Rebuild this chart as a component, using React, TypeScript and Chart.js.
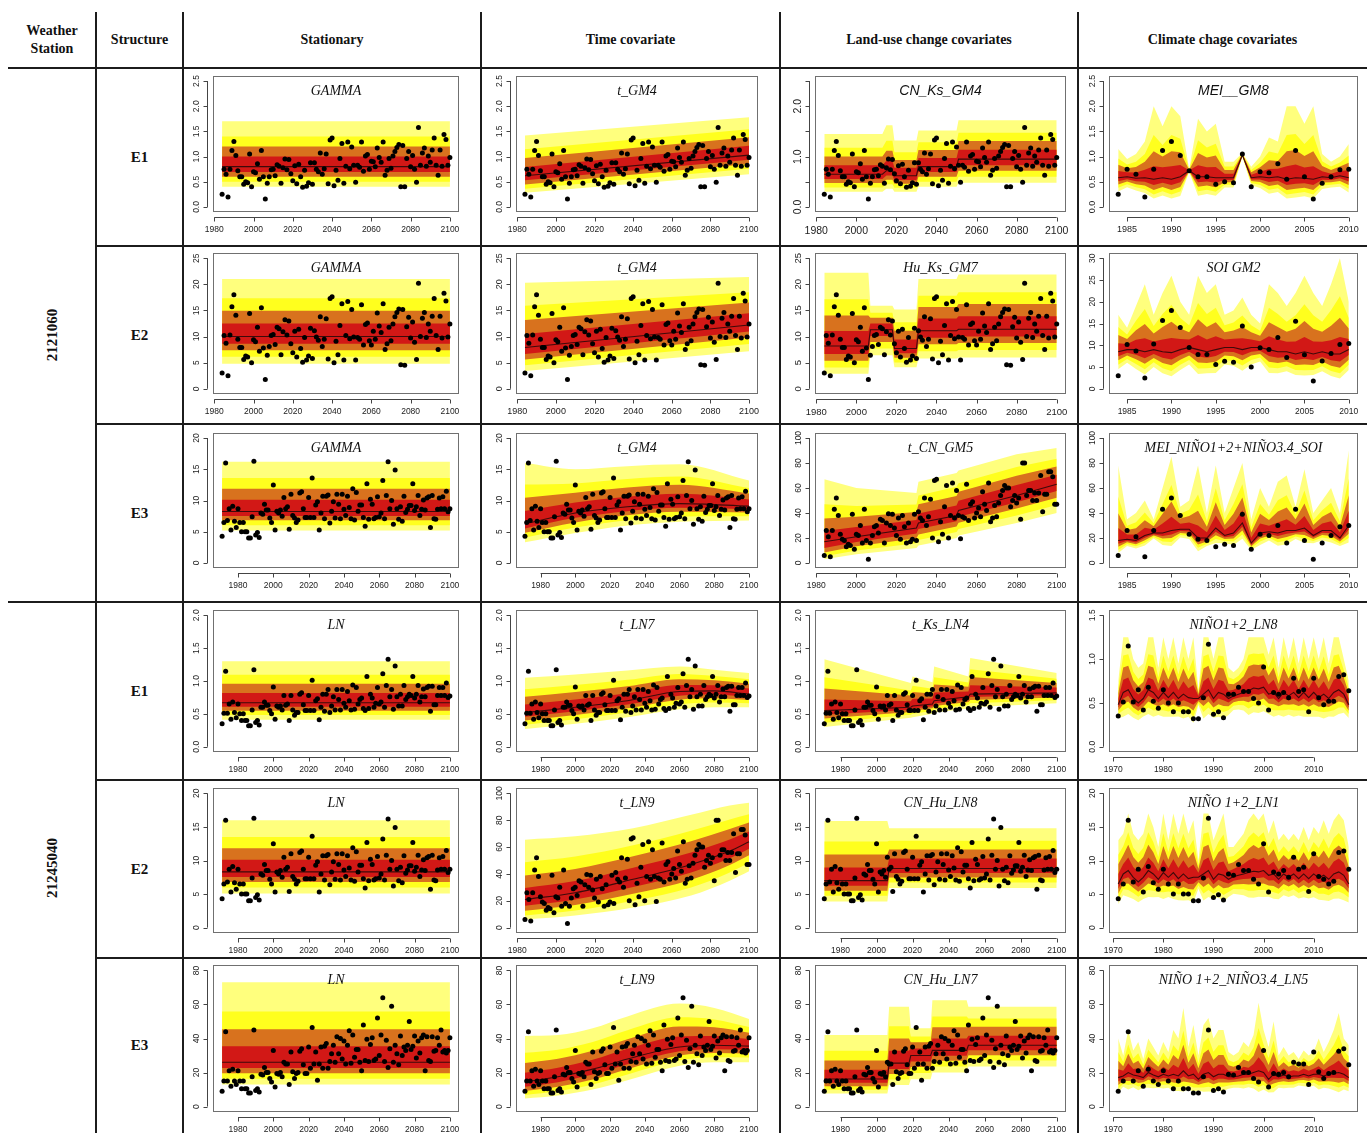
import React, { useEffect, useRef } from "react";
import { Chart, registerables } from "chart.js";
Chart.register(...registerables);

// ================= DATA =================
// Observed annual series (value per year, starting at *_START)
const OBS_A_START = 1984; // 2121060 E1
const OBS_A = [
  0.25, 0.75, 0.65, 0.2, 0.75, 1.12, 1.3, 1.02, 0.72, 0.6, 0.6, 0.45, 0.5, 0.48, 1.05, 0.4, 0.7, 0.68, 0.86, 0.55, 1.12, 0.6, 0.16, 0.47, 0.6, 0.74, 0.75,
  0.62, 0.84, 0.81, 0.47, 0.78, 0.95, 0.74, 0.94, 0.66, 0.52,
  0.82, 0.46, 0.85, 0.6, 0.39, 0.73, 0.41, 0.48, 0.88, 0.45,
  0.88, 0.75, 0.7, 1.07, 0.65, 0.76, 1.05, 0.46, 1.33, 1.37,
  0.42, 0.73, 0.53, 0.96, 1.26, 0.47, 0.81, 1.29, 0.76, 1.19,
  0.83, 0.49, 0.83, 0.79, 1.29, 0.71, 1.01, 1.04, 0.75, 0.91,
  0.9, 0.8, 1.17, 0.98, 0.89, 1.29, 0.63, 0.73, 0.96, 0.77,
  1.01, 1.1, 1.18, 1.24, 0.4, 1.22, 0.4, 0.96, 1.1, 0.8,
  1.02, 0.75, 0.49, 1.58, 0.83, 1.07, 1.17, 0.81, 1.01, 0.89,
  1.13, 1.37, 0.83, 0.63, 1.13, 0.81, 1.44, 1.34, 0.83, 0.98,
];
const OBS_B_START = 1984; // 2121060 E2
const OBS_B = [
  3, 10.2, 8.7, 2.5, 10.3, 15.7, 18, 14.1, 9.5, 7.9, 7.9, 5.6, 6.3, 6.1, 14.4, 5, 9.4, 9, 11.8, 7.2, 15.5, 7.8, 1.8, 6.4, 8.1, 10.2, 10.4,
  8.5, 11.8, 11.5, 6.5, 10.9, 13.2, 10.3, 13, 8.6, 6.9,
  11, 6.1, 11.4, 7.7, 5.1, 9.8, 5.5, 6.3, 11.6, 5.8,
  11.1, 9.9, 9.3, 13.8, 8.1, 9.5, 13.4, 5.7, 17.3, 17.6,
  5, 9.1, 6.5, 12.1, 16.3, 5.5, 10.2, 16.7, 9.6, 15.2,
  9.9, 5.5, 9.8, 9.5, 16.1, 8.4, 12.3, 12.6, 9.2, 8.4,
  11, 9.5, 14.5, 12, 10.8, 16.3, 7.5, 8.6, 11.8, 9.2,
  12.4, 13.8, 14.6, 15.3, 4.6, 15.2, 4.5, 11.9, 13.7, 9.7,
  12.8, 8.9, 5.6, 20.2, 10, 13.5, 14.6, 9.8, 12.4, 11,
  13.9, 17.3, 10.2, 7.5, 13.9, 9.7, 18.3, 16.8, 9.9, 12.4,
];
const OBS_C_START = 1971; // 2121060 E3 / 21245040 E2
const OBS_C = [
  4.3, 6.5, 16, 6.8, 8.7, 5.3, 9.1, 6.7, 5.7, 8.7,
  6.5, 5, 6.5, 5, 5, 4, 4, 7.4, 16.3, 4.5,
  4.9, 4.1, 8, 7.8, 9.4, 8.5, 8.5, 7.2, 6.5, 12.5,
  5.3, 8.3, 8, 8.5, 7.5, 10.5, 8.7, 9, 5.4, 11,
  7.6, 7.2, 6.5, 6.9, 11.2, 11.4, 8.7, 7.3, 7.3, 10.5,
  7.3, 13.6, 7.3, 9.3, 9.8, 5.3, 8, 10.7, 7.1, 10.7,
  10.9, 6.4, 8.3, 9.8, 7.2, 11, 9.4, 7.1, 11, 8.6,
  7.6, 10.7, 8.9, 7.1, 11.9, 6.9, 11.3, 8.3, 9.3, 9.3,
  7.3, 5.9, 12.7, 7, 10.2, 9.4, 7.1, 7.3, 10.6, 7.4,
  8, 13.2, 7.1, 10.8, 16.2, 8.7, 10, 6.2, 14.9, 8.7,
  7, 9, 6.7, 10.7, 8.1, 8.6, 9.2, 9.2, 12.7, 8.4,
  9, 10.8, 7.6, 8.6, 10.1, 8.5, 10.4, 10.6, 5.7, 10.8,
  7.1, 7, 8.6, 10.4, 8.7, 10.6, 8.7, 11.5, 8.2, 8.7,
];
const OBS_D_START = 1984; // 0-100 series (t_CN_GM5, MEI_..., t_LN9)
const OBS_D = [
  6, 26, 21, 5, 26, 43, 52, 38, 23, 19,
  18, 13, 15, 14, 39, 11, 23, 22, 30, 16,
  43, 18, 3, 16, 22, 29, 30, 24, 35, 34,
  16, 32, 39.5, 30, 39, 28, 22, 36, 19, 38,
  29, 16, 32, 17, 19, 39, 18, 41, 36, 34,
  52, 30, 37, 51, 20, 66, 67, 17, 33, 23,
  45, 62, 20, 38, 64, 36, 58, 38, 19.5, 37,
  36, 63, 34, 47, 49, 36, 40, 44, 37, 57,
  47, 42, 64, 33, 36, 46, 37, 48, 54, 58,
  62, 60, 60, 45, 50, 54, 48, 52, 35, 80,
  80, 54, 58, 58, 50, 56, 50, 56, 70, 41,
  55, 55, 73, 73, 69, 47, 47,
];
const OBS_E_START = 1971; // 21245040 E1
const OBS_E = [
  0.35, 0.51, 1.15, 0.51, 0.65, 0.42, 0.68, 0.52, 0.44, 0.65,
  0.5, 0.4, 0.5, 0.4, 0.4, 0.32, 0.32, 0.56, 1.17, 0.37,
  0.4, 0.33, 0.6, 0.6, 0.68, 0.63, 0.63, 0.55, 0.5, 0.91,
  0.42, 0.62, 0.6, 0.62, 0.56, 0.78, 0.63, 0.65, 0.4, 0.78,
  0.56, 0.48, 0.52, 0.52, 0.8, 0.82, 0.64, 0.55, 0.55, 0.78,
  0.55, 1.01, 0.55, 0.7, 0.73, 0.41, 0.6, 0.8, 0.54, 0.8,
  0.87, 0.52, 0.62, 0.76, 0.56, 0.87, 0.72, 0.56, 0.87, 0.66,
  0.6, 0.84, 0.7, 0.56, 0.94, 0.57, 0.9, 0.65, 0.72, 0.74,
  0.58, 0.55, 1.07, 0.58, 0.8, 0.74, 0.6, 0.66, 0.9, 0.65,
  0.68, 1.11, 0.6, 0.93, 1.33, 0.76, 0.87, 0.57, 1.23, 0.76,
  0.62, 0.8, 0.62, 0.93, 0.72, 0.76, 0.8, 0.78, 1.07, 0.74,
  0.8, 0.93, 0.68, 0.76, 0.88, 0.76, 0.9, 0.92, 0.54, 0.92,
  0.64, 0.64, 0.78, 0.9, 0.78, 0.9, 0.78, 0.97, 0.75, 0.77,
];
const OBS_F_START = 1971; // 21245040 E3
const OBS_F = [
  9, 15, 44, 15, 21, 12, 22, 15, 13, 21,
  15, 10.5, 15, 10.5, 10.5, 8, 8, 17.5, 45, 9.5,
  10.5, 8.5, 19, 18.5, 23, 20, 20, 16.5, 14.5, 33,
  11.5, 19.5, 19, 20, 17.5, 26, 25, 25, 13, 32,
  20.5, 16.5, 19.5, 20, 32.5, 34, 24.5, 19.5, 19.5, 35,
  22.5, 46.5, 25, 32, 15.5, 25, 35, 22.5, 35.5, 37,
  22.5, 26.5, 31, 36, 26, 41, 31, 40, 28, 38.5,
  25, 36, 44.5, 25.5, 42, 29, 33.5, 33.5, 26, 21,
  48, 27, 39.5, 26.5, 36.5, 40.5, 27, 28, 52, 30,
  42, 64, 26.5, 39, 23, 34, 59, 26, 36, 31,
  24.5, 41.5, 30, 35, 33, 36, 50, 33.5, 35.5, 41.5,
  28.5, 38.5, 31.5, 40.5, 42, 21, 41, 27, 26.5, 41,
  32.5, 33, 40.5, 36, 45, 32, 33, 31.5, 33, 40.5,
];

// Centile fans: nodes (year), median, outer upper centile, outer lower centile
const F_A1_X = [1984, 2100]; const F_A1_M = [0.8, 0.8]; const F_A1_HI = [1.7, 1.7]; const F_A1_LO = [0.4, 0.4];
const F_A2_X = [1984, 2100]; const F_A2_M = [0.62, 1.03]; const F_A2_HI = [1.42, 1.78]; const F_A2_LO = [0.28, 0.65];
const F_A3_X = [1984, 2013, 2015, 2018, 2019, 2030, 2031, 2050, 2051, 2100];
const F_A3_M = [0.65, 0.65, 0.72, 0.72, 0.62, 0.62, 0.8, 0.8, 0.95, 0.95];
const F_A3_HI = [1.45, 1.45, 1.62, 1.62, 1.32, 1.32, 1.52, 1.52, 1.72, 1.72];
const F_A3_LO = [0.3, 0.3, 0.36, 0.36, 0.3, 0.3, 0.4, 0.4, 0.48, 0.48];
const F_A4_M = [0.58, 0.6, 0.57, 0.58, 0.55, 0.58, 0.55, 0.6, 0.72, 0.6, 0.6, 0.58, 0.58, 0.58, 1.03, 0.58, 0.6, 0.58, 0.6, 0.55, 0.58, 0.57, 0.55, 0.6, 0.58, 0.62, 0.58];
const F_A4_HI = [1.15, 0.95, 1.05, 1.3, 2.0, 1.6, 2.0, 1.8, 0.75, 1.75, 1.5, 1.65, 0.9, 0.9, 1.07, 0.8, 1.0, 1.38, 1.3, 2.0, 2.0, 1.65, 2.0, 1.05, 0.9, 1.0, 1.25];

const F_B1_X = [1984, 2100]; const F_B1_M = [10, 10]; const F_B1_HI = [21, 21]; const F_B1_LO = [4.8, 4.8];
const F_B2_X = [1984, 2100]; const F_B2_M = [7.9, 12.2]; const F_B2_HI = [20.3, 21.4]; const F_B2_LO = [3.4, 7.2];
const F_B3_X = [1984, 2006, 2007, 2018, 2019, 2030, 2031, 2050, 2051, 2100];
const F_B3_M = [8.2, 8.2, 11.3, 11.3, 7.7, 7.7, 11.1, 11.1, 11.4, 11.4];
const F_B3_HI = [22.2, 22.2, 15.9, 15.9, 15.2, 15.2, 21, 21, 21.9, 21.9];
const F_B3_LO = [2.9, 2.9, 6.4, 6.4, 4.1, 4.1, 5.8, 5.8, 6, 6];
const F_B4_M = [8.5, 9, 9, 8.5, 9, 8.5, 8.3, 9, 9.5, 9, 8.5, 9, 9.5, 9.5, 9, 9.5, 9.5, 9, 8.5, 8.5, 8, 8.5, 8, 8.5, 8, 8, 9];
const F_B4_HI = [17, 14, 19, 24, 17, 22, 26, 20, 17, 26, 22, 24, 17, 18, 21, 17, 15, 24, 22, 19, 22, 26, 22, 19, 24, 30, 20];

const F_C1_X = [1971, 2100]; const F_C1_M = [8.25, 8.25]; const F_C1_HI = [16.2, 16.2]; const F_C1_LO = [5.2, 5.2];
const F_C2_X = [1971, 2000, 2030, 2060, 2100]; const F_C2_M = [6.3, 8.0, 9.0, 9.5, 9.1];
const F_C2_HI = [16.0, 15.0, 15.5, 15.8, 13.2]; const F_C2_LO = [3.3, 4.8, 6.0, 6.6, 6.8];
const F_C3_X = [1984, 2000, 2030, 2031, 2050, 2051, 2080, 2100];
const F_C3_M = [17, 21, 28, 32, 38, 42, 54, 63];
const F_C3_HI = [67, 60, 56, 65, 72, 74, 87, 92];
const F_C3_LO = [3, 7, 12, 14, 20, 22, 32, 40];
const F_C4_M = [18, 19, 18, 22, 24, 24, 26, 27, 27, 20, 20, 28, 22, 24, 32, 16, 24, 25, 24, 26, 26, 28, 22, 26, 26, 20, 30];
const F_C4_HI = [78, 35, 40, 50, 35, 60, 85, 45, 50, 78, 40, 78, 40, 60, 80, 35, 60, 45, 65, 70, 45, 75, 40, 50, 60, 40, 90];

const F_D1_X = [1971, 2100]; const F_D1_M = [0.67, 0.67]; const F_D1_HI = [1.3, 1.3]; const F_D1_LO = [0.41, 0.41];
const F_D2_X = [1971, 2000, 2030, 2060, 2080, 2100]; const F_D2_M = [0.52, 0.6, 0.7, 0.84, 0.85, 0.8];
const F_D2_HI = [1.05, 1.1, 1.16, 1.22, 1.17, 1.12]; const F_D2_LO = [0.27, 0.35, 0.45, 0.57, 0.6, 0.6];
const F_D3_X = [1971, 2019, 2020, 2031, 2032, 2051, 2052, 2100];
const F_D3_M = [0.55, 0.6, 0.62, 0.65, 0.7, 0.76, 0.8, 0.82];
const F_D3_HI = [1.33, 0.97, 1.07, 0.98, 1.22, 1.07, 1.35, 1.12];
const F_D3_LO = [0.3, 0.44, 0.45, 0.5, 0.52, 0.58, 0.6, 0.66];
const F_D4_M = [0.48, 0.62, 0.65, 0.55, 0.5, 0.55, 0.65, 0.62, 0.55, 0.62, 0.56, 0.62, 0.55, 0.6, 0.56, 0.55, 0.55, 0.6, 0.65, 0.55, 0.62, 0.6, 0.55, 0.58, 0.6, 0.62, 0.64, 0.67, 0.66, 0.68, 0.6, 0.62, 0.55, 0.62, 0.58, 0.62, 0.56, 0.62, 0.56, 0.62, 0.56, 0.6, 0.55, 0.62, 0.65, 0.6, 0.48];
const F_D4_HI = [0.75, 1.25, 1.25, 1.0, 0.9, 0.95, 1.25, 1.25, 0.9, 1.25, 1.0, 1.25, 0.95, 1.25, 1.0, 1.25, 0.65, 1.25, 1.25, 1.0, 1.25, 1.25, 0.9, 0.85, 0.9, 1.0, 1.25, 1.25, 1.25, 1.25, 1.05, 1.25, 0.9, 1.25, 1.0, 1.25, 0.95, 1.25, 1.0, 1.25, 1.0, 1.25, 0.95, 1.25, 1.25, 1.0, 0.75];

const F_E1_X = [1971, 2100]; const F_E1_M = [8.3, 8.3]; const F_E1_HI = [16, 16]; const F_E1_LO = [5.1, 5.1];
const F_E2_X = [1984, 2010, 2040, 2070, 2090, 2100]; const F_E2_M = [21, 26, 36, 47, 57, 64];
const F_E2_HI = [65.5, 68, 74, 84, 91, 93]; const F_E2_LO = [6, 9, 15, 24, 35, 42];
const F_E3_X = [1971, 2006, 2007, 2100]; const F_E3_M = [7, 7, 8.8, 8.8];
const F_E3_HI = [15.9, 15.9, 14.8, 14.8]; const F_E3_LO = [3.9, 3.9, 5.9, 5.9];
const F_E4_M = [6.5, 8, 8.5, 7.5, 6.8, 7.5, 8.5, 8, 7.2, 8.2, 7.5, 8.2, 7.3, 8, 7.3, 7.5, 7.5, 8, 8.5, 7.2, 8, 7.8, 7.2, 7.6, 7.8, 8, 8.2, 8.4, 8.3, 8.5, 7.8, 8, 7.2, 8, 7.5, 8, 7.3, 8, 7.3, 8, 7.4, 7.8, 7.2, 8, 8.3, 7.8, 6.5];
const F_E4_HI = [13, 14, 17, 14, 13, 14, 17, 15, 12, 17, 13, 17, 14, 17, 14, 16, 10, 17, 17, 13, 15, 17, 12, 12, 13, 14, 16, 17, 16, 17, 14, 16, 13, 14, 13, 14, 13, 15, 13, 15, 14, 16, 14, 16, 17, 16, 12];

const F_F1_X = [1971, 2100]; const F_F1_M = [26, 26]; const F_F1_HI = [73, 73]; const F_F1_LO = [13, 13];
const F_F2_X = [1971, 1990, 2010, 2030, 2060, 2080, 2100]; const F_F2_M = [14.5, 17.5, 22, 28, 35, 36, 35.5];
const F_F2_HI = [41.5, 42, 46, 53, 60.5, 58, 51.5]; const F_F2_LO = [4.7, 6.5, 10, 15.5, 24, 26, 26];
const F_F3_X = [1971, 2006, 2007, 2018, 2019, 2030, 2031, 2050, 2051, 2100];
const F_F3_M = [16.2, 16.2, 25.5, 25.5, 30, 30, 33, 33, 36, 36];
const F_F3_HI = [42, 42, 58.7, 58.7, 46, 46, 62.5, 62.5, 58.7, 58.7];
const F_F3_LO = [7.7, 7.7, 12.6, 12.6, 16, 16, 20, 20, 23.5, 23.5];
const F_F4_M = [17, 18, 20, 18.5, 18, 17, 20, 18.5, 17.5, 19, 18, 19, 18, 21, 18, 19, 16, 19, 20, 17.5, 19, 19, 17.5, 17.5, 18, 19, 19, 20, 21, 20, 16, 19, 17.5, 18.5, 17.5, 18, 18, 19, 18, 19, 19, 18, 19, 19.5, 20, 19, 17];
const F_F4_HI = [40, 30, 45, 33, 38, 28, 40, 35, 30, 38, 32, 45, 40, 58, 35, 48, 30, 48, 52, 40, 45, 45, 32, 30, 32, 38, 35, 42, 61, 45, 35, 50, 30, 35, 30, 32, 28, 33, 30, 32, 40, 32, 38, 45, 55, 40, 36];

// Relative position of inner centiles between median and outer centile (log scale)
const UP_FR = [0.3, 0.54, 0.74, 1];
const LO_FR = [0.2, 0.41, 0.67, 1];

// Ticks
const X_CENT = [1980, 2000, 2020, 2040, 2060, 2080, 2100];
const X_CL_A = [1985, 1990, 1995, 2000, 2005, 2010];
const X_CL_B = [1970, 1980, 1990, 2000, 2010];
const Y_25 = [0, 0.5, 1, 1.5, 2, 2.5]; const YL_25 = ["0.0", "0.5", "1.0", "1.5", "2.0", "2.5"];
const YL_25B = ["0.0", "", "1.0", "", "2.0", ""];
const Y_2 = [0, 0.5, 1, 1.5, 2]; const YL_2 = ["0.0", "0.5", "1.0", "1.5", "2.0"];
const Y_15 = [0, 0.5, 1, 1.5]; const YL_15 = ["0.0", "0.5", "1.0", "1.5"];
const Y_20 = [0, 5, 10, 15, 20]; const YL_20 = ["0", "5", "10", "15", "20"];
const Y_25I = [0, 5, 10, 15, 20, 25]; const YL_25I = ["0", "5", "10", "15", "20", "25"];
const Y_30 = [0, 5, 10, 15, 20, 25, 30]; const YL_30 = ["0", "5", "10", "15", "20", "25", "30"];
const Y_100 = [0, 20, 40, 60, 80, 100]; const YL_100 = ["0", "20", "40", "60", "80", "100"];
const Y_80 = [0, 20, 40, 60, 80]; const YL_80 = ["0", "20", "40", "60", "80"];

// Table text
const COLUMN_HEADERS = ["Stationary", "Time covariate", "Land-use change covariates", "Climate chage covariates"];
const STATIONS = ["2121060", "21245040"];
const STRUCTURES = ["E1", "E2", "E3", "E1", "E2", "E3"];

// ================= LAYOUT / STYLE =================
const COL_L = [183, 481, 780, 1078];
const COL_R = [481, 780, 1078, 1367];
const ROW_T = [68, 246, 424, 602, 780, 958];
const ROW_B = [246, 424, 602, 780, 958, 1133];
const PAD_LR = [[30, 22], [35, 22], [35, 12], [31, 9]];
const PAD_TB = [[8, 34], [7, 30], [9, 34], [8, 28], [8, 25], [7, 21]];
const SERIF = '"Liberation Serif", "Times New Roman", serif';
const SANS = '"Liberation Sans", Arial, sans-serif';
const C_PALE = "rgb(255,255,125)";
const C_YEL = "rgb(255,255,30)";
const C_ORA = "rgb(216,114,30)";
const C_RED = "rgb(210,24,22)";

type Spec = {
  row: number; col: number; title: string; sans?: boolean;
  pStart: number; pts: number[]; from: number; to: number;
  bx?: number[]; bm: number[]; bh: number[]; bl?: number[]; lowRatio?: number;
  smooth?: boolean; yT: number[]; yL: string[]; xT: number[]; fs?: number;
};

const SPECS: Spec[] = [
  { row: 0, col: 0, title: "GAMMA", pStart: OBS_A_START, pts: OBS_A, from: 1984, to: 2100, bx: F_A1_X, bm: F_A1_M, bh: F_A1_HI, bl: F_A1_LO, yT: Y_25, yL: YL_25, xT: X_CENT },
  { row: 0, col: 1, title: "t_GM4", pStart: OBS_A_START, pts: OBS_A, from: 1984, to: 2100, bx: F_A2_X, bm: F_A2_M, bh: F_A2_HI, bl: F_A2_LO, yT: Y_25, yL: YL_25, xT: X_CENT, fs: 8.5 },
  { row: 0, col: 2, title: "CN_Ks_GM4", sans: true, pStart: OBS_A_START, pts: OBS_A, from: 1984, to: 2100, bx: F_A3_X, bm: F_A3_M, bh: F_A3_HI, bl: F_A3_LO, yT: Y_25, yL: YL_25B, xT: X_CENT, fs: 10.5 },
  { row: 0, col: 3, title: "MEI__GM8", sans: true, pStart: OBS_A_START, pts: OBS_A, from: 1984, to: 2010, bm: F_A4_M, bh: F_A4_HI, lowRatio: 0.92, yT: Y_25, yL: YL_25, xT: X_CL_A, fs: 9 },

  { row: 1, col: 0, title: "GAMMA", pStart: OBS_B_START, pts: OBS_B, from: 1984, to: 2100, bx: F_B1_X, bm: F_B1_M, bh: F_B1_HI, bl: F_B1_LO, yT: Y_25I, yL: YL_25I, xT: X_CENT },
  { row: 1, col: 1, title: "t_GM4", pStart: OBS_B_START, pts: OBS_B, from: 1984, to: 2100, bx: F_B2_X, bm: F_B2_M, bh: F_B2_HI, bl: F_B2_LO, yT: Y_25I, yL: YL_25I, xT: X_CENT, fs: 9 },
  { row: 1, col: 2, title: "Hu_Ks_GM7", pStart: OBS_B_START, pts: OBS_B, from: 1984, to: 2100, bx: F_B3_X, bm: F_B3_M, bh: F_B3_HI, bl: F_B3_LO, yT: Y_25I, yL: YL_25I, xT: X_CENT, fs: 9.5 },
  { row: 1, col: 3, title: "SOI GM2", pStart: OBS_B_START, pts: OBS_B, from: 1984, to: 2010, bm: F_B4_M, bh: F_B4_HI, lowRatio: 0.92, yT: Y_30, yL: YL_30, xT: X_CL_A },

  { row: 2, col: 0, title: "GAMMA", pStart: OBS_C_START, pts: OBS_C, from: 1971, to: 2100, bx: F_C1_X, bm: F_C1_M, bh: F_C1_HI, bl: F_C1_LO, yT: Y_20, yL: YL_20, xT: X_CENT },
  { row: 2, col: 1, title: "t_GM4", pStart: OBS_C_START, pts: OBS_C, from: 1971, to: 2100, bx: F_C2_X, bm: F_C2_M, bh: F_C2_HI, bl: F_C2_LO, smooth: true, yT: Y_20, yL: YL_20, xT: X_CENT },
  { row: 2, col: 2, title: "t_CN_GM5", pStart: OBS_D_START, pts: OBS_D, from: 1984, to: 2100, bx: F_C3_X, bm: F_C3_M, bh: F_C3_HI, bl: F_C3_LO, yT: Y_100, yL: YL_100, xT: X_CENT },
  { row: 2, col: 3, title: "MEI_NIÑO1+2+NIÑO3.4_SOI", pStart: OBS_D_START, pts: OBS_D, from: 1984, to: 2010, bm: F_C4_M, bh: F_C4_HI, lowRatio: 0.55, yT: Y_100, yL: YL_100, xT: X_CL_A },

  { row: 3, col: 0, title: "LN", pStart: OBS_E_START, pts: OBS_E, from: 1971, to: 2100, bx: F_D1_X, bm: F_D1_M, bh: F_D1_HI, bl: F_D1_LO, yT: Y_2, yL: YL_2, xT: X_CENT },
  { row: 3, col: 1, title: "t_LN7", pStart: OBS_E_START, pts: OBS_E, from: 1971, to: 2100, bx: F_D2_X, bm: F_D2_M, bh: F_D2_HI, bl: F_D2_LO, smooth: true, yT: Y_2, yL: YL_2, xT: X_CENT },
  { row: 3, col: 2, title: "t_Ks_LN4", pStart: OBS_E_START, pts: OBS_E, from: 1971, to: 2100, bx: F_D3_X, bm: F_D3_M, bh: F_D3_HI, bl: F_D3_LO, yT: Y_2, yL: YL_2, xT: X_CENT },
  { row: 3, col: 3, title: "NIÑO1+2_LN8", pStart: OBS_E_START, pts: OBS_E, from: 1971, to: 2017, bm: F_D4_M, bh: F_D4_HI, lowRatio: 0.85, yT: Y_15, yL: YL_15, xT: X_CL_B },

  { row: 4, col: 0, title: "LN", pStart: OBS_C_START, pts: OBS_C, from: 1971, to: 2100, bx: F_E1_X, bm: F_E1_M, bh: F_E1_HI, bl: F_E1_LO, yT: Y_20, yL: YL_20, xT: X_CENT },
  { row: 4, col: 1, title: "t_LN9", pStart: OBS_D_START, pts: OBS_D, from: 1984, to: 2100, bx: F_E2_X, bm: F_E2_M, bh: F_E2_HI, bl: F_E2_LO, smooth: true, yT: Y_100, yL: YL_100, xT: X_CENT },
  { row: 4, col: 2, title: "CN_Hu_LN8", pStart: OBS_C_START, pts: OBS_C, from: 1971, to: 2100, bx: F_E3_X, bm: F_E3_M, bh: F_E3_HI, bl: F_E3_LO, yT: Y_20, yL: YL_20, xT: X_CENT },
  { row: 4, col: 3, title: "NIÑO 1+2_LN1", pStart: OBS_C_START, pts: OBS_C, from: 1971, to: 2017, bm: F_E4_M, bh: F_E4_HI, lowRatio: 0.9, yT: Y_20, yL: YL_20, xT: X_CL_B },

  { row: 5, col: 0, title: "LN", pStart: OBS_F_START, pts: OBS_F, from: 1971, to: 2100, bx: F_F1_X, bm: F_F1_M, bh: F_F1_HI, bl: F_F1_LO, yT: Y_80, yL: YL_80, xT: X_CENT },
  { row: 5, col: 1, title: "t_LN9", pStart: OBS_F_START, pts: OBS_F, from: 1971, to: 2100, bx: F_F2_X, bm: F_F2_M, bh: F_F2_HI, bl: F_F2_LO, smooth: true, yT: Y_80, yL: YL_80, xT: X_CENT },
  { row: 5, col: 2, title: "CN_Hu_LN7", pStart: OBS_F_START, pts: OBS_F, from: 1971, to: 2100, bx: F_F3_X, bm: F_F3_M, bh: F_F3_HI, bl: F_F3_LO, yT: Y_80, yL: YL_80, xT: X_CENT },
  { row: 5, col: 3, title: "NIÑO 1+2_NIÑO3.4_LN5", pStart: OBS_F_START, pts: OBS_F, from: 1971, to: 2017, bm: F_F4_M, bh: F_F4_HI, lowRatio: 0.85, yT: Y_80, yL: YL_80, xT: X_CL_B },
];

function makeRPlot(spec: Spec) {
  return {
    id: "rPlot",
    afterDatasetsDraw(chart: any) {
      const { ctx, chartArea: a } = chart;
      const xs = chart.scales.x, ys = chart.scales.y;
      const fs = spec.fs ?? 8.5;
      ctx.save();
      // frame
      ctx.strokeStyle = "#707070";
      ctx.lineWidth = 1;
      ctx.strokeRect(Math.round(a.left) + 0.5, Math.round(a.top) + 0.5, Math.round(a.width) - 1, Math.round(a.height) - 1);
      ctx.strokeStyle = "#444";
      // x axis
      const ay = Math.round(a.bottom) + 5.5;
      const px = spec.xT.map((v) => xs.getPixelForValue(v));
      ctx.beginPath();
      ctx.moveTo(px[0], ay);
      ctx.lineTo(px[px.length - 1], ay);
      px.forEach((p) => { ctx.moveTo(Math.round(p) + 0.5, ay); ctx.lineTo(Math.round(p) + 0.5, ay + 4); });
      // y axis
      const ax = Math.round(a.left) - 5.5;
      const py = spec.yT.map((v) => ys.getPixelForValue(v));
      ctx.moveTo(ax, py[0]);
      ctx.lineTo(ax, py[py.length - 1]);
      py.forEach((p) => { ctx.moveTo(ax, Math.round(p) + 0.5); ctx.lineTo(ax - 4, Math.round(p) + 0.5); });
      ctx.stroke();
      ctx.fillStyle = "#222";
      ctx.font = `${fs}px ${SANS}`;
      ctx.textAlign = "center";
      ctx.textBaseline = "middle";
      spec.xT.forEach((v, i) => ctx.fillText(String(v), px[i], ay + 6 + fs * 0.7));
      spec.yL.forEach((lab, i) => {
        if (!lab) return;
        ctx.save();
        ctx.translate(ax - 5.5 - fs * 0.6, py[i]);
        ctx.rotate(-Math.PI / 2);
        ctx.fillText(lab, 0, 0);
        ctx.restore();
      });
      // title
      ctx.fillStyle = "#111";
      ctx.font = `italic 14px ${spec.sans ? SANS : SERIF}`;
      ctx.fillText(spec.title, (a.left + a.right) / 2, a.top + 15);
      ctx.restore();
    },
  };
}

function ChartCell({ spec }: { spec: Spec }) {
  const ref = useRef<HTMLCanvasElement>(null);
  const L = COL_L[spec.col], R = COL_R[spec.col], T = ROW_T[spec.row], B = ROW_B[spec.row];
  const w = R - L - 2, h = B - T - 2;
  useEffect(() => {
    const cv = ref.current;
    if (!cv) return;
    const [pl, pr] = PAD_LR[spec.col];
    const [pt, pb] = PAD_TB[spec.row];
    const bx = spec.bx ?? spec.bm.map((_, i) => spec.from + i);
    const lo = spec.bl ?? spec.bm.map((m, i) => m * Math.pow(m / spec.bh[i], spec.lowRatio ?? 0.9));
    const up = UP_FR.map((f) => bx.map((x, i) => ({ x, y: spec.bm[i] * Math.pow(spec.bh[i] / spec.bm[i], f) })));
    const dn = LO_FR.map((f) => bx.map((x, i) => ({ x, y: spec.bm[i] * Math.pow(lo[i] / spec.bm[i], f) })));
    const med = bx.map((x, i) => ({ x, y: spec.bm[i] }));
    const pts = spec.pts
      .map((v, i) => ({ x: spec.pStart + i, y: v }))
      .filter((p) => p.x >= spec.from && p.x <= spec.to);
    const interp = spec.smooth ? "monotone" : "default";
    const band = (data: any[], color: string | null) => ({
      data, borderWidth: 0, borderColor: "rgba(0,0,0,0)", pointRadius: 0,
      fill: color ? "+1" : false, backgroundColor: color ?? "rgba(0,0,0,0)",
      cubicInterpolationMode: interp, tension: 0,
    });
    const colors = [C_RED, C_ORA, C_YEL, C_PALE];
    const bandSets: any[] = [];
    for (let k = 0; k < 4; k++) {
      bandSets.push(band(up[k], colors[k]));
      bandSets.push(band(dn[k], null));
    }
    const datasets: any[] = [
      { data: pts, showLine: false, pointRadius: 2.5, pointBackgroundColor: "#000", pointBorderWidth: 0, borderColor: "#000", fill: false },
      { data: med, borderColor: "#3d0a0a", borderWidth: 1.1, pointRadius: 0, fill: false, cubicInterpolationMode: interp, tension: 0 },
      ...bandSets,
    ];
    const xr = spec.to - spec.from;
    const yr = spec.yT[spec.yT.length - 1] - spec.yT[0];
    const chart = new Chart(cv, {
      type: "line",
      data: { datasets },
      options: {
        responsive: false,
        animation: false,
        devicePixelRatio: 1,
        events: [],
        layout: { padding: { left: pl - 1, right: pr - 1, top: pt - 1, bottom: pb - 1 } },
        scales: {
          x: { type: "linear", min: spec.from - 0.04 * xr, max: spec.to + 0.04 * xr, display: false },
          y: { type: "linear", min: spec.yT[0] - 0.04 * yr, max: spec.yT[spec.yT.length - 1] + 0.04 * yr, display: false },
        },
        plugins: { legend: { display: false }, tooltip: { enabled: false }, title: { display: false } },
      } as any,
      plugins: [makeRPlot(spec)],
    } as any);
    return () => chart.destroy();
  }, [spec]);
  return (
    <canvas
      ref={ref}
      width={w}
      height={h}
      style={{ position: "absolute", left: L + 1, top: T + 1, width: w, height: h }}
    />
  );
}

const lineStyle = (x: number, y: number, w: number, h: number): React.CSSProperties => ({
  position: "absolute", left: x, top: y, width: w, height: h, background: "#1c1c1c", zIndex: 2,
});

export default function App() {
  useEffect(() => {
    document.body.style.margin = "0";
    document.body.style.background = "#fff";
  }, []);
  const vLines = [96, 183, 481, 780, 1078];
  const hFull = [68, 602];
  const hPart = [246, 424, 780, 958];
  const bold: React.CSSProperties = { fontFamily: SERIF, fontWeight: "bold", fontSize: 14, color: "#111" };
  const center: React.CSSProperties = { position: "absolute", display: "flex", alignItems: "center", justifyContent: "center", textAlign: "center" };
  return (
    <div style={{ position: "relative", width: 1367, height: 1133, background: "#fff", overflow: "hidden" }}>
      {SPECS.map((s, i) => <ChartCell key={i} spec={s} />)}
      {vLines.map((x) => <div key={"v" + x} style={lineStyle(x - 1, 12, 2, 1121)} />)}
      {hFull.map((y) => <div key={"hf" + y} style={lineStyle(8, y - 1, 1359, 2)} />)}
      {hPart.map((y) => <div key={"hp" + y} style={lineStyle(96, y - 1, 1271, 2)} />)}
      <div style={{ ...center, ...bold, left: 8, top: 12, width: 88, height: 56, lineHeight: "18px" }}>Weather<br />Station</div>
      <div style={{ ...center, ...bold, left: 96, top: 12, width: 87, height: 56 }}>Structure</div>
      {COLUMN_HEADERS.map((t, i) => (
        <div key={t} style={{ ...center, ...bold, left: COL_L[i], top: 12, width: COL_R[i] - COL_L[i], height: 56 }}>{t}</div>
      ))}
      {STRUCTURES.map((t, r) => (
        <div key={"s" + r} style={{ ...center, ...bold, fontSize: 15, left: 96, top: ROW_T[r], width: 87, height: ROW_B[r] - ROW_T[r] }}>{t}</div>
      ))}
      {STATIONS.map((t, i) => {
        const top = i === 0 ? ROW_T[0] : ROW_T[3];
        const bot = i === 0 ? ROW_B[2] : ROW_B[5];
        return (
          <div key={t} style={{ ...bold, fontSize: 15, position: "absolute", left: 52, top: (top + bot) / 2, transform: "translate(-50%, -50%) rotate(-90deg)", whiteSpace: "nowrap" }}>{t}</div>
        );
      })}
    </div>
  );
}
